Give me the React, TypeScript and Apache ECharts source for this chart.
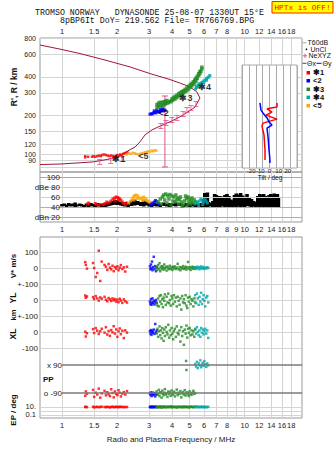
import React, { useEffect, useRef } from 'react';
import * as echarts from 'echarts';

// ---------- axes / ticks ----------
const FMIN = 0.758;
const FMAX = 20.6;
const GRID_F = [1, 1.5, 2, 3, 4, 5, 6, 7, 8, 9, 10, 12, 14, 16, 18];
const TOP_F_LABELS = [1, 1.5, 2, 3, 4, 5, 6, 7, 8, 10, 12, 14, 16, 18];
const MID_F_LABELS = [1, 1.5, 2, 3, 4, 5, 6, 7, 8, 9, 10, 12, 14, 16, 18];
const BOT_F_LABELS = [1, 1.5, 2, 3, 4, 5, 6, 7, 8, 10, 12, 14, 16, 18];
const H_TICKS = [80, 90, 100, 120, 150, 200, 300, 400, 600, 800];
const DB_TICKS = [20, 40, 60, 80, 100];
const TILT_LABELS = [-20, -10, 0, 10, 20];

// ---------- top panel: profile curve ----------
const PROFILE_F = [0.758, 1.0, 1.254, 1.72, 2.36, 3.03, 3.9, 4.42, 5.02, 5.48, 5.69, 5.35, 4.6, 4.0, 3.44, 3.11, 2.85, 2.67, 2.51, 2.33, 2.16, 2.03, 1.83, 1.48, 1.0, 0.758];
const PROFILE_H = [706, 651, 606, 540, 477, 424, 381, 358, 334, 305, 274, 233, 202, 182, 166, 155, 142, 125, 114, 108, 101, 95.6, 92.3, 87.5, 84.4, 83.5];
const NEXYZ_F = [1.61, 1.85, 2.13, 3.48, 3.71, 4.0, 4.26, 4.6, 4.83, 5.08, 5.41];
const NEXYZ_H = [87.5, 89.1, 92.3, 166, 175, 185, 192, 206, 221, 229, 246];
const ERRBAR_F = [3.66, 3.66];
const ERRBAR_H = [284, 80];

// ---------- top panel: echo traces (MHz, km) ----------
const RED_TRACE = [[1.34, 97], [1.34, 95], [1.39, 96], [1.46, 96], [1.49, 97], [1.52, 96], [1.56, 97], [1.6, 98], [1.63, 97], [1.66, 99], [1.7, 100], [1.74, 99], [1.78, 98], [1.82, 97], [1.86, 98], [1.9, 97], [1.94, 96], [1.97, 97], [2.0, 99], [2.04, 98], [2.08, 100], [2.12, 99], [2.16, 101], [2.2, 102], [2.24, 103], [2.28, 104]];
const ORANGE_TRACE = [[2.26, 100], [2.32, 102], [2.38, 101], [2.44, 103], [2.5, 102], [2.56, 101], [2.62, 100], [2.68, 101], [2.74, 102], [2.8, 103], [2.86, 104], [2.92, 105], [2.98, 106], [3.04, 105], [3.1, 107], [3.16, 106], [3.22, 108], [3.28, 107]];
const BLUE_TRACE = [[3.03, 205], [3.08, 207], [3.12, 206], [3.17, 210], [3.22, 212], [3.27, 210], [3.32, 214], [3.37, 216], [3.42, 213], [3.47, 218], [3.52, 220], [3.57, 217], [3.62, 222], [3.67, 219], [3.2, 218], [3.3, 220], [3.45, 224], [3.55, 226]];
const GREEN_TRACE = [[3.31, 232], [3.31, 244], [3.38, 236], [3.38, 250], [3.45, 240], [3.45, 254], [3.53, 238], [3.53, 252], [3.6, 242], [3.6, 256], [3.68, 246], [3.68, 258], [3.75, 250], [3.75, 262], [3.82, 252], [3.88, 258], [3.94, 256], [4.0, 262], [4.0, 270], [4.08, 266], [4.08, 276], [4.16, 270], [4.16, 282], [4.26, 276], [4.26, 288], [4.36, 284], [4.36, 296], [4.45, 290], [4.45, 302], [4.53, 292], [4.53, 306], [4.62, 300], [4.62, 312], [4.72, 306], [4.72, 320], [4.83, 312], [4.83, 328], [4.94, 322], [4.94, 338], [5.04, 332], [5.04, 348], [5.14, 340], [5.14, 356], [5.24, 350], [5.24, 366], [5.33, 362], [5.33, 378], [5.41, 372], [5.41, 390], [5.5, 388], [5.5, 404], [5.6, 408], [5.6, 424], [5.69, 424], [5.69, 440], [5.76, 442], [5.83, 460], [5.83, 475]];
const CYAN_TRACE = [[5.38, 322], [5.45, 330], [5.45, 340], [5.55, 336], [5.62, 344], [5.62, 354], [5.72, 350], [5.8, 360], [5.8, 348], [5.9, 364], [5.98, 372], [5.98, 360], [6.08, 378], [6.18, 388], [6.18, 376], [6.28, 394], [6.38, 400], [6.45, 410]];
const TAG_TEXT = ['✱1', '<5', '<2', '✱3', '✱4'];
const TAG_F = [2.05, 2.79, 3.6, 4.77, 6.03];
const TAG_H = [92.5, 96.5, 210, 276, 336];

// ---------- inset: tilt ----------
const THETA_X_DEG = [8.2, 8.2, -2.7, 2.7, -3.8, 8.2, -7.1, -8.2, -6.0, -4.9, -4.9];
const THETA_X_H = [251, 233, 226, 213, 202, 188, 175, 166, 142, 108, 90.7];
const THETA_Y_DEG = [-10.4, -9.3, -7.1, -2.7, -0.5, 2.7, -2.7, -1.6, -0.5, 0.5, 0.5];
const THETA_Y_H = [251, 221, 210, 192, 179, 169, 160, 137, 108, 90.7, 86];

// ---------- amplitude panel (dB) ----------
const NOISE_F = [1.0, 1.03, 1.06, 1.09, 1.12, 1.15, 1.18, 1.21, 1.25, 1.28, 1.32, 1.36, 1.4, 1.44, 1.48, 1.52, 1.56, 1.6, 1.64, 1.68, 1.72, 1.76, 1.8, 1.85, 1.9, 1.95, 2.0, 2.05, 2.1, 2.15, 2.2, 2.25, 2.3, 2.4, 2.5, 2.6, 2.7, 2.8, 2.9, 3.0, 3.1, 3.2, 3.3, 3.45, 3.6, 3.75, 3.9, 4.05, 4.2, 4.4, 4.6, 4.8, 5.0, 5.2, 5.4, 5.6, 5.8, 5.95, 6.05, 6.15, 6.25, 6.35, 6.5, 6.7, 6.85, 7.0, 7.15, 7.3, 7.45, 7.6, 7.8, 8.0, 8.2, 8.4, 8.6, 8.8, 9.0, 9.25, 9.5, 9.75, 10.0, 10.3, 10.6, 10.9, 11.2, 11.5, 11.8, 12.1, 12.4, 12.7, 13.0, 13.3, 13.6, 13.9, 14.2, 14.5, 14.8, 15.1, 15.3];
const NOISE_LO = [41, 42, 40, 42, 41, 42, 40, 41, 42, 41, 40, 41, 40, 42, 41, 40, 41, 42, 40, 38, 39, 41, 42, 43, 44, 45, 44, 45, 43, 42, 41, 42, 40, 42, 43, 44, 42, 41, 43, 41, 40, 42, 41, 40, 42, 41, 40, 42, 41, 42, 40, 41, 40, 41, 40, 41, 40, 41, 40, 41, 40, 42, 41, 40, 41, 40, 41, 40, 41, 42, 40, 41, 40, 41, 40, 41, 40, 41, 40, 41, 40, 42, 41, 40, 41, 40, 41, 40, 41, 40, 41, 40, 41, 40, 41, 40, 41, 40, 40];
const NOISE_HI = [46, 47, 45, 48, 46, 47, 49, 45, 47, 46, 44, 47, 45, 48, 46, 44, 48, 47, 45, 47, 44, 48, 50, 49, 52, 54, 53, 51, 50, 48, 47, 50, 48, 53, 55, 52, 50, 53, 51, 48, 46, 48, 47, 46, 49, 47, 48, 47, 49, 48, 46, 48, 47, 48, 46, 47, 48, 56, 68, 62, 69, 50, 48, 52, 66, 64, 60, 62, 58, 61, 64, 66, 62, 55, 53, 64, 67, 65, 68, 63, 60, 66, 60, 56, 52, 50, 62, 66, 64, 66, 62, 58, 64, 66, 63, 67, 64, 66, 58];
const AMP_RED = [[1.38, 46], [1.4, 48], [1.52, 47], [1.55, 45], [1.6, 44], [1.68, 45], [1.72, 47], [1.76, 50], [1.8, 48], [1.85, 52], [1.9, 56], [1.94, 58], [1.98, 60], [2.02, 59], [2.06, 57], [2.1, 54], [2.14, 50], [2.18, 47], [2.22, 45], [2.26, 48], [1.95, 52], [2.04, 55]];
const AMP_ORANGE = [[2.32, 48], [2.38, 52], [2.42, 56], [2.46, 60], [2.5, 63], [2.55, 64], [2.6, 62], [2.65, 58], [2.7, 56], [2.75, 58], [2.8, 60], [2.85, 57], [2.9, 54], [2.95, 52], [3.0, 50], [3.05, 48], [2.48, 54], [2.58, 57], [2.78, 53]];
const AMP_BLUE = [[3.05, 44], [3.1, 46], [3.15, 48], [3.2, 50], [3.25, 53], [3.3, 51], [3.35, 48], [3.4, 46]];
const AMP_GREEN = [[3.35, 50], [3.45, 56], [3.55, 60], [3.6, 64], [3.7, 66], [3.8, 63], [3.9, 65], [4.0, 62], [4.1, 60], [4.2, 64], [4.3, 58], [4.4, 55], [4.5, 50], [4.6, 46], [4.7, 52], [4.8, 57], [4.9, 60], [5.0, 56], [5.1, 52], [5.2, 48], [5.3, 54], [5.4, 50], [3.5, 46], [3.75, 48], [3.95, 44], [4.15, 50], [4.35, 46], [4.55, 42], [4.85, 44], [5.05, 46], [3.65, 54], [3.85, 56], [4.05, 52], [4.25, 54], [4.45, 60], [4.75, 62], [4.95, 50], [5.15, 58]];
const AMP_CYAN = [[5.35, 46], [5.45, 50], [5.55, 48], [5.65, 52], [5.75, 56], [5.85, 54], [5.95, 50], [6.05, 56], [6.15, 52], [6.25, 48], [5.6, 44], [5.9, 45]];

// ---------- lower panel ----------
const RED_F = [1.34, 1.35, 1.37, 1.48, 1.5, 1.53, 1.56, 1.59, 1.62, 1.65, 1.71, 1.74, 1.77, 1.8, 1.83, 1.86, 1.89, 1.92, 1.95, 1.98, 2.01, 2.04, 2.07, 2.1, 2.14, 2.18, 2.22, 2.27];
const RED_VSTAR = [37, 19, -4, 31, 0, -56, -31, 108, -81, 40, 19, 8, -12, 25, 2, -8, 14, -20, 6, -4, 10, -14, 2, 18, -6, 4, -22, 8];
const RED_YL = [28, 14, 22, 18, 6, 24, 10, -4, 16, 8, 20, 2, -8, 12, 4, -6, 10, -2, 6, -10, 2, -14, 8, -4, -18, 4, -8, -16];
const RED_XL = [2, -28, -8, 18, -6, 24, 8, -12, 4, 20, -4, 30, -16, 6, -24, 12, -2, 36, -10, 16, -30, 4, 22, -14, 8, -38, 10, -4];
const RED_PP = [-108, -80, -95, -70, -115, -88, -100, -62, -120, -92, -76, -105, -85, -98, -110, -66, -90, -118, -80, -96, -104, -72, -88, -112, -94, -84, -100, -78];
const RED_EP = [10, 11, 9, 12, 8, 10, 11, 9, 10, 12, 10, 9, 11, 10, 8, 10, 12, 9, 10, 11, 10, 9, 12, 10, 11, 9, 10, 10];

const BLUE_F = [3.03, 3.05, 3.07, 3.09, 3.11, 3.13, 3.15, 3.18, 3.21, 3.24, 3.27, 3.3];
const BLUE_VSTAR = [10, -8, 22, -2, 40, -14, 6, 70, -6, 12, -20, 4];
const BLUE_YL = [-10, -25, 5, -30, -15, 10, -20, -5, -28, -12, 0, -18];
const BLUE_XL = [5, -10, 12, -18, 0, 8, -5, 15, -12, 50, -2, 10];
const BLUE_PP = [-92, -100, -86, -110, -95, -88, -104, -98, -90, -112, -94, -100];
const BLUE_EP = [10, 11, 9, 10, 12, 10, 9, 11, 10, 10, 12, 9];

const GREEN_F = [3.3, 3.33, 3.36, 3.39, 3.42, 3.45, 3.48, 3.51, 3.54, 3.57, 3.6, 3.63, 3.66, 3.7, 3.74, 3.78, 3.82, 3.86, 3.9, 3.94, 3.98, 4.02, 4.06, 4.1, 4.15, 4.2, 4.25, 4.3, 4.35, 4.4, 4.45, 4.5, 4.55, 4.6, 4.65, 4.7, 4.75, 4.8, 4.85, 4.9, 4.95, 5.0, 5.06, 5.12, 5.18, 5.24, 5.3, 5.36];
const GREEN_VSTAR = [5, -12, 18, -4, 30, -20, 8, -6, 12, 2, -10, 22, -2, 6, -16, 10, 0, -8, 14, -4, 4, -12, 8, -2, 10, -6, 2, 26, -8, 6, -14, 4, -2, 12, -6, 0, 8, -10, 4, 38, -4, 6, -12, 2, 8, -6, 4, -2];
const GREEN_YL = [-20, -35, 10, -40, 25, -10, 30, -25, 5, -45, 15, -5, 35, -30, 20, -15, 40, -20, 0, -35, 25, 10, -25, 30, -10, 15, -40, 20, -5, -30, 10, -60, 25, -15, 5, -20, 30, -35, -50, 15, -10, 20, -25, 5, -5, -40, 10, -15];
const GREEN_XL = [-10, 20, -30, 5, 35, -20, 10, -40, 25, -5, -55, 15, -25, 30, 0, -15, 45, -35, 10, -20, 25, -10, -45, 5, 20, -30, 35, -5, -15, 10, -60, 30, -25, 5, -80, 15, -10, 40, -35, 20, -5, 25, -20, 10, -15, 5, -30, 15];
const GREEN_PP = [-80, -100, -95, -70, -110, -85, -90, -120, -75, -95, -105, -88, -65, -100, -92, -115, -80, -96, -86, -108, -74, -94, -100, -82, -112, -90, -68, -104, -88, -96, -78, -118, -92, -84, -100, -72, -106, -90, -86, -98, -110, -80, -94, -102, -88, -76, -96, -90];
const GREEN_EP = [10, 12, 8, 11, 9, 14, 10, 7, 12, 10, 9, 13, 11, 8, 10, 12, 9, 11, 10, 15, 8, 10, 12, 9, 11, 10, 7, 13, 10, 9, 12, 11, 8, 10, 14, 9, 10, 12, 11, 8, 10, 9, 13, 10, 11, 9, 10, 12];
const GREEN_PP_X = [[4.78, 116], [4.8, 58]];

const CYAN_F = [5.36, 5.42, 5.48, 5.54, 5.6, 5.66, 5.72, 5.78, 5.84, 5.9, 5.96, 6.02, 6.08, 6.16, 6.24, 6.32];
const CYAN_VSTAR = [4, -6, 8, -2, 6, -8, 2, 10, -4, 0, 6, -6, 2, -2, 4, 0];
const CYAN_YL = [30, -20, 40, 10, -30, 20, -10, 45, -25, 5, 30, -5, -40, 15, 25, -15];
const CYAN_XL = [20, -10, 30, 0, -20, 10, -30, 25, -5, 15, -15, 5, 20, -10, 10, -37];
const CYAN_PP = [96, 80, 110, 70, 100, 88, 120, 76, 92, 104, 84, 115, 95, 78, 100, 88];
const CYAN_EP = [10, 11, 9, 12, 10, 9, 11, 10, 12, 9, 10, 11, 10, 9, 10, 11];

// ---------- colours ----------
const C_RED = '#ff0000';
const C_BLUE = '#0000ff';
const C_GREEN = '#228b22';
const C_CYAN = '#00a8a8';
const C_ORANGE = '#ffa500';
const C_CURVE = '#a0163c';
const C_PINK = '#e0508a';
const GRID_LINE = '#d4d4d4';
const FRAME = '#999999';
const FONT = 'Liberation Sans, Arial, sans-serif';
const MONO = 'Liberation Mono, DejaVu Sans Mono, monospace';

const zip = (a: number[], b: number[]) => a.map((v, i) => [v, b[i]]);
const fmtF = (v: number) => String(Math.round(v * 10) / 10);

function freqAxis(gridIndex: number, labels: number[] | null, extra: any = {}) {
  return {
    type: 'log',
    logBase: 10,
    gridIndex,
    min: FMIN,
    max: FMAX,
    axisLine: { show: false },
    axisTick: { show: false, customValues: GRID_F },
    splitLine: { show: true, lineStyle: { color: GRID_LINE, width: 1 } },
    axisLabel: labels
      ? { show: true, customValues: labels, formatter: fmtF, fontSize: 7.5, color: '#222', fontFamily: FONT, margin: 3, interval: 0, hideOverlap: false }
      : { show: false },
    ...extra,
  };
}

function scatter(name: string, x: number, y: number, data: any[], color: string, size: any = 2.5, extra: any = {}) {
  return {
    name,
    type: 'scatter',
    xAxisIndex: x,
    yAxisIndex: y,
    data,
    symbol: 'rect',
    symbolSize: size,
    itemStyle: { color },
    silent: true,
    ...extra,
  };
}

function rowAxis(gridIndex: number, min: number, max: number, ticks: number[], labels: number[], fmt: (v: number) => string, extra: any = {}) {
  return {
    type: 'value',
    gridIndex,
    min,
    max,
    axisLine: { show: false },
    axisTick: { show: false, customValues: ticks },
    splitLine: { show: true, lineStyle: { color: GRID_LINE, width: 1 } },
    axisLabel: { show: true, customValues: labels, formatter: fmt, fontSize: 8, color: '#222', fontFamily: FONT, margin: 2 },
    ...extra,
  };
}

const txt = (text: string, x: number, y: number, opts: any = {}) => ({
  type: 'text',
  x,
  y,
  silent: true,
  rotation: opts.rotation || 0,
  style: {
    text,
    font: opts.font || `7px ${FONT}`,
    fill: opts.fill || '#111',
    textAlign: opts.align || 'left',
    textVerticalAlign: 'middle',
  },
  z: 100,
});

const legendSquare = (y: number, color: string, label: string) => [
  { type: 'rect', shape: { x: 306.5, y: y - 1.7, width: 3.5, height: 3.5 }, style: { fill: color }, silent: true, z: 100 },
  txt(label, 313, y, { font: `bold 7.5px ${FONT}` }),
];

function buildOption() {
  const graphic: any[] = [
    txt('TROMSO NORWAY   DYNASONDE 25-08-07 1330UT 15°E', 35, 12.7, { font: `8.3px ${MONO}` }),
    txt('8pBP6It DoY= 219.562 File= TR766769.BPG', 60, 20.5, { font: `8.3px ${MONO}` }),
    { type: 'rect', shape: { x: 272, y: 1.5, width: 61, height: 11.5 }, style: { fill: '#ffff00', stroke: '#ff2000', lineWidth: 1 }, silent: true, z: 99 },
    txt('HPTx is OFF!', 302.5, 7.5, { font: `7.8px ${MONO}`, fill: '#ff0000', align: 'center' }),
    // legend
    { type: 'line', shape: { x1: 302.5, y1: 42.8, x2: 306.5, y2: 42.8 }, style: { stroke: '#aaaaaa', lineWidth: 1 }, silent: true, z: 100 },
    txt('T60dB', 307.5, 42.8),
    { type: 'circle', shape: { cx: 306.5, cy: 49.3, r: 0.8 }, style: { fill: '#000' }, silent: true, z: 100 },
    txt('UnCl', 310.5, 49.3),
    { type: 'line', shape: { x1: 303, y1: 55.8, x2: 307, y2: 55.8 }, style: { stroke: C_PINK, lineWidth: 1 }, silent: true, z: 100 },
    { type: 'line', shape: { x1: 305, y1: 53.8, x2: 305, y2: 57.8 }, style: { stroke: C_PINK, lineWidth: 1 }, silent: true, z: 100 },
    txt('NeXYZ', 308.5, 55.8),
    { type: 'line', shape: { x1: 302.5, y1: 63.3, x2: 306.5, y2: 63.3 }, style: { stroke: C_RED, lineWidth: 1 }, silent: true, z: 100 },
    txt('Θx', 307, 63.3),
    { type: 'line', shape: { x1: 316.5, y1: 63.3, x2: 321.5, y2: 63.3 }, style: { stroke: C_BLUE, lineWidth: 1 }, silent: true, z: 100 },
    txt('Θy', 322.5, 63.3),
    ...legendSquare(72.7, C_RED, '✱1'),
    ...legendSquare(80.7, C_BLUE, '<2'),
    ...legendSquare(89.3, C_GREEN, '✱3'),
    ...legendSquare(97.3, C_CYAN, '✱4'),
    ...legendSquare(105.7, C_ORANGE, '<5'),
    // axis names
    txt("R', R / km", 14, 87, { rotation: Math.PI / 2, align: 'center', font: `bold 8.5px ${FONT}` }),
    txt('Tilt / deg', 270, 177.5, { align: 'center', font: `6.5px ${FONT}` }),
    txt('V* m/s', 13, 266, { rotation: Math.PI / 2, align: 'center', font: `bold 8px ${FONT}` }),
    txt('YL', 13, 298, { rotation: Math.PI / 2, align: 'center', font: `bold 8.5px ${FONT}` }),
    txt('km', 13, 315, { rotation: Math.PI / 2, align: 'center', font: `bold 7.5px ${FONT}` }),
    txt('XL', 13, 334, { rotation: Math.PI / 2, align: 'center', font: `bold 8.5px ${FONT}` }),
    txt('PP', 43, 379, { font: `bold 8px ${FONT}` }),
    txt('EP / deg', 13, 410, { rotation: Math.PI / 2, align: 'center', font: `bold 8px ${FONT}` }),
  ];

  const grid = [
    { left: 40, top: 38, width: 262, height: 134, show: true, borderColor: FRAME, borderWidth: 1, backgroundColor: 'transparent' }, // 0 height
    { left: 242, top: 65, width: 55, height: 103, show: true, borderColor: '#aaaaaa', borderWidth: 1, backgroundColor: '#ffffff', z: 1 }, // 1 tilt
    { left: 40, top: 172, width: 262, height: 50, show: true, borderColor: FRAME, borderWidth: 1 }, // 2 amplitude
    { left: 40, top: 237, width: 262, height: 181, show: true, borderColor: FRAME, borderWidth: 1 }, // 3 lower frame
    { left: 40, top: 244, width: 262, height: 48, show: false }, // 4 V*
    { left: 40, top: 276, width: 262, height: 48, show: false }, // 5 YL
    { left: 40, top: 308, width: 262, height: 48, show: false }, // 6 XL
    { left: 40, top: 358, width: 262, height: 42, show: false }, // 7 PP
    { left: 40, top: 400, width: 262, height: 18, show: false }, // 8 EP
  ];

  const xAxis: any[] = [
    freqAxis(0, TOP_F_LABELS, { position: 'top' }), // 0
    {
      type: 'value', gridIndex: 1, min: -30, max: 30, interval: 7.5, position: 'bottom', z: 3,
      axisLine: { show: false }, axisTick: { show: false }, axisLabel: { show: false },
      splitLine: { show: true, lineStyle: { color: '#aaaaaa', width: 1 } },
    }, // 1
    {
      type: 'value', gridIndex: 1, min: -30, max: 30, interval: 10, position: 'bottom', z: 3,
      axisLine: { show: false }, axisTick: { show: false }, splitLine: { show: false },
      axisLabel: { customValues: TILT_LABELS, fontSize: 6, color: '#222', fontFamily: FONT, margin: 0, hideOverlap: false },
    }, // 2
    freqAxis(2, MID_F_LABELS, { position: 'bottom' }), // 3
    freqAxis(3, BOT_F_LABELS, {
      position: 'bottom',
      name: 'Radio and Plasma Frequency / MHz',
      nameLocation: 'middle',
      nameGap: 17,
      nameTextStyle: { fontSize: 8, color: '#222', fontFamily: FONT },
    }), // 4
    freqAxis(4, null, { show: false }), // 5
    freqAxis(5, null, { show: false }), // 6
    freqAxis(6, null, { show: false }), // 7
    freqAxis(7, null, { show: false }), // 8
    freqAxis(8, null, { show: false }), // 9
  ];

  const yAxis: any[] = [
    {
      type: 'log', logBase: 10, gridIndex: 0, min: 73.1, max: 800,
      axisLine: { show: false },
      axisTick: { show: false, customValues: H_TICKS },
      splitLine: { show: true, lineStyle: { color: GRID_LINE, width: 1 } },
      axisLabel: { customValues: H_TICKS, formatter: (v: number) => String(Math.round(v)), fontSize: 7, color: '#222', fontFamily: FONT, margin: 4, hideOverlap: false },
    }, // 0
    { type: 'log', logBase: 10, gridIndex: 1, min: 78.6, max: 494, show: false }, // 1
    {
      type: 'value', gridIndex: 2, min: 10, max: 110, offset: -22, z: 3,
      axisLine: { show: false },
      axisTick: { show: false, customValues: DB_TICKS },
      splitLine: { show: true, lineStyle: { color: ['#a8a8dc', '#b0b0b0', '#d0d0d0', '#d0d0d0', '#a8a8a8'], width: 1 } },
      axisLabel: {
        customValues: DB_TICKS,
        formatter: (v: number) => (v === 20 ? 'dBn 20' : v === 80 ? 'dBe 80' : String(v)),
        fontSize: 8, color: '#222', fontFamily: FONT, margin: 2, hideOverlap: false,
      },
    }, // 2
    { type: 'value', gridIndex: 3, min: 0, max: 1, show: false }, // 3
    rowAxis(4, -150, 150, [100, 0, -100], [100, 0, -100], (v) => (v === -100 ? '+-100' : String(v))), // 4 V*
    rowAxis(5, -150, 150, [0, -100], [0, -100], (v) => (v === -100 ? '+-100' : String(v))), // 5 YL
    rowAxis(6, -150, 150, [0, -100], [0, -100], (v) => String(v)), // 6 XL
    {
      type: 'value', gridIndex: 7, min: -135, max: 135, offset: -23,
      axisLine: { show: false }, axisTick: { show: false }, splitLine: { show: false },
      axisLabel: { customValues: [90, -90], formatter: (v: number) => (v > 0 ? 'x 90' : 'o -90'), fontSize: 8, color: '#222', fontFamily: FONT, margin: 1 },
    }, // 7 PP
    {
      type: 'log', logBase: 10, gridIndex: 8, min: 0.01778, max: 562.3,
      axisLine: { show: false },
      axisTick: { show: false, customValues: [10, 1, 0.1] },
      splitLine: { show: true, lineStyle: { color: GRID_LINE, width: 1 } },
      axisLabel: { customValues: [10, 0.1], formatter: (v: number) => (v >= 1 ? '10.' : '0.1'), fontSize: 7.5, color: '#222', fontFamily: FONT, margin: 4, hideOverlap: false },
    }, // 8 EP
  ];

  const series: any[] = [
    // ----- top panel -----
    {
      type: 'line', xAxisIndex: 0, yAxisIndex: 0, data: zip(PROFILE_F, PROFILE_H),
      showSymbol: false, symbol: 'none', lineStyle: { color: C_CURVE, width: 1 }, silent: true, z: 2,
    },
    {
      type: 'line', xAxisIndex: 0, yAxisIndex: 0, data: zip(ERRBAR_F, ERRBAR_H),
      symbol: 'rect', symbolSize: [6, 1], showSymbol: true, itemStyle: { color: C_PINK },
      lineStyle: { color: C_PINK, width: 1 }, silent: true, z: 2,
    },
    scatter('nexyz', 0, 0, zip(NEXYZ_F, NEXYZ_H), C_PINK, [5, 6], {
      symbol: 'path://M0,0H5V1H3V5H5V6H0V5H2V1H0Z',
    }),
    scatter('red', 0, 0, RED_TRACE, C_RED, 2.5, { z: 3 }),
    scatter('orange', 0, 0, ORANGE_TRACE, C_ORANGE, 2.5, { z: 3 }),
    scatter('blue', 0, 0, BLUE_TRACE, C_BLUE, 3, { z: 3 }),
    scatter('green', 0, 0, GREEN_TRACE, C_GREEN, 3.5, { z: 3 }),
    scatter('cyan', 0, 0, CYAN_TRACE, C_CYAN, 3, { z: 3 }),
    {
      type: 'scatter', xAxisIndex: 0, yAxisIndex: 0, silent: true, z: 4,
      data: TAG_TEXT.map((t, i) => ({ name: t, value: [TAG_F[i], TAG_H[i]] })),
      symbolSize: 1, itemStyle: { color: 'rgba(0,0,0,0)' },
      label: { show: true, position: 'inside', formatter: (p: any) => p.name, fontSize: 9, fontWeight: 'bold', color: '#000', fontFamily: FONT },
    },
    // ----- tilt inset -----
    {
      type: 'line', xAxisIndex: 1, yAxisIndex: 1, data: zip(THETA_X_DEG, THETA_X_H),
      symbol: 'none', lineStyle: { color: C_RED, width: 1.5 }, silent: true, z: 5,
    },
    {
      type: 'line', xAxisIndex: 1, yAxisIndex: 1, data: zip(THETA_Y_DEG, THETA_Y_H),
      symbol: 'none', lineStyle: { color: C_BLUE, width: 1.5 }, silent: true, z: 5,
    },
    // ----- amplitude: noise band as vertical bars -----
    {
      type: 'custom', xAxisIndex: 3, yAxisIndex: 2, silent: true, z: 2,
      data: NOISE_F.map((f, i) => [f, NOISE_LO[i], NOISE_HI[i]]),
      encode: { x: 0, y: [1, 2] },
      renderItem: (_params: any, api: any) => {
        const top = api.coord([api.value(0), api.value(2)]);
        const bot = api.coord([api.value(0), api.value(1)]);
        return {
          type: 'rect',
          shape: { x: top[0] - 1.8, y: top[1], width: 3.6, height: bot[1] - top[1] },
          style: { fill: '#000' },
        };
      },
    },
    scatter('ared', 3, 2, AMP_RED, C_RED, 3, { z: 4 }),
    scatter('aorange', 3, 2, AMP_ORANGE, C_ORANGE, 3, { z: 4 }),
    scatter('ablue', 3, 2, AMP_BLUE, C_BLUE, 3, { z: 4 }),
    scatter('agreen', 3, 2, AMP_GREEN, C_GREEN, 3.5, { z: 4 }),
    scatter('acyan', 3, 2, AMP_CYAN, C_CYAN, 3, { z: 4 }),
    // ----- V* -----
    scatter('vr', 5, 4, zip(RED_F, RED_VSTAR), C_RED),
    scatter('vb', 5, 4, zip(BLUE_F, BLUE_VSTAR), C_BLUE),
    scatter('vg', 5, 4, zip(GREEN_F, GREEN_VSTAR), C_GREEN),
    scatter('vc', 5, 4, zip(CYAN_F, CYAN_VSTAR), C_CYAN),
    // ----- YL -----
    scatter('yr', 6, 5, zip(RED_F, RED_YL), C_RED),
    scatter('yb', 6, 5, zip(BLUE_F, BLUE_YL), C_BLUE),
    scatter('yg', 6, 5, zip(GREEN_F, GREEN_YL), C_GREEN),
    scatter('yc', 6, 5, zip(CYAN_F, CYAN_YL), C_CYAN),
    // ----- XL -----
    scatter('xr', 7, 6, zip(RED_F, RED_XL), C_RED),
    scatter('xb', 7, 6, zip(BLUE_F, BLUE_XL), C_BLUE),
    scatter('xg', 7, 6, zip(GREEN_F, GREEN_XL), C_GREEN),
    scatter('xc', 7, 6, zip(CYAN_F, CYAN_XL), C_CYAN),
    // ----- PP -----
    scatter('pr', 8, 7, zip(RED_F, RED_PP), C_RED, 2.5, {
      markLine: {
        silent: true, symbol: 'none', label: { show: false },
        lineStyle: { color: '#7a7a7a', width: 1.5, type: 'solid' },
        data: [
          [{ coord: [1, 90] }, { coord: [FMAX, 90] }],
          [{ coord: [1, -90] }, { coord: [FMAX, -90] }],
        ],
      },
    }),
    scatter('pb', 8, 7, zip(BLUE_F, BLUE_PP), C_BLUE),
    scatter('pg', 8, 7, zip(GREEN_F, GREEN_PP), C_GREEN),
    scatter('pg2', 8, 7, GREEN_PP_X, C_GREEN),
    scatter('pc', 8, 7, zip(CYAN_F, CYAN_PP), C_CYAN),
    // ----- EP -----
    scatter('er', 9, 8, zip(RED_F, RED_EP), C_RED),
    scatter('eb', 9, 8, zip(BLUE_F, BLUE_EP), C_BLUE),
    scatter('eg', 9, 8, zip(GREEN_F, GREEN_EP), C_GREEN),
    scatter('ec', 9, 8, zip(CYAN_F, CYAN_EP), C_CYAN),
  ];

  return {
    animation: false,
    backgroundColor: '#ffffff',
    textStyle: { fontFamily: FONT },
    grid,
    xAxis,
    yAxis,
    series,
    graphic,
  };
}

export default function App() {
  const ref = useRef<HTMLDivElement>(null);
  useEffect(() => {
    if (!ref.current) return;
    const chart = echarts.init(ref.current, undefined, { renderer: 'svg' });
    chart.setOption(buildOption() as any);
    return () => chart.dispose();
  }, []);
  return (
    <div
      ref={ref}
      style={{ position: 'fixed', left: 0, top: 0, width: 335, height: 451, background: '#fff' }}
    />
  );
}
